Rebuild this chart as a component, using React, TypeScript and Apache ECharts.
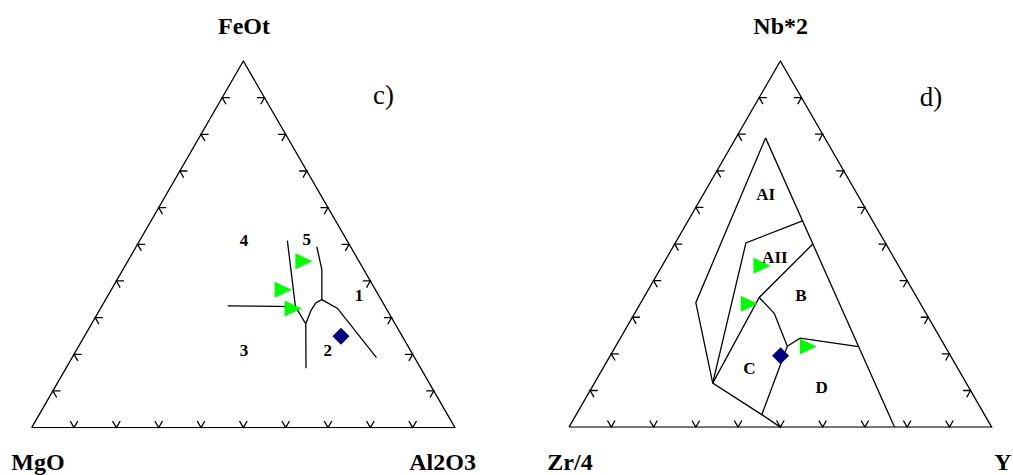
import React, { useEffect, useRef } from "react";
import * as echarts from "echarts";

const SQ = Math.sqrt(3) / 2;

// Ternary coordinates: [top, bottom-left, bottom-right] in percent
const cApexTitles = ["FeOt", "MgO", "Al2O3"];
const dApexTitles = ["Nb*2", "Zr/4", "Y"];
const tickPercents = [10, 20, 30, 40, 50, 60, 70, 80, 90];
const tickLen = 1.8;

// c) FeOt - MgO - Al2O3 field boundaries
const cBoundaries: number[][][] = [
  [[51, 14.1, 34.9], [33, 21.2, 45.8], [28.3, 21.1, 50.6], [16.2, 27.1, 56.7]],
  [[33.2, 37.1, 29.7], [33, 21.2, 45.8]],
  [[28.3, 21.1, 50.6], [32, 18, 50], [34, 15.9, 50.1], [34.9, 14, 51.1]],
  [[49.3, 8, 42.7], [43.1, 9.9, 47], [34.9, 14, 51.1]],
  [[34.9, 14, 51.1], [32.5, 11.5, 56], [19.1, 9, 71.9]],
];
const cFieldLabels = ["4", "5", "1", "3", "2"];
const cFieldPos: number[][] = [
  [51.1, 24.3, 24.6],
  [51.3, 9.4, 39.3],
  [35.9, 4.7, 59.4],
  [20.9, 39.4, 39.7],
  [20.9, 19.6, 59.5],
];
const cGreen: number[][] = [
  [45.4, 13, 41.6],
  [37.6, 21.7, 40.6],
  [32.5, 22, 45.5],
];
const cBlue: number[][] = [[24.9, 14.5, 60.6]];

// d) Nb*2 - Zr/4 - Y field boundaries
const dBoundaries: number[][][] = [
  [[79, 14, 7], [34, 53, 13], [12, 60, 28], [3.4, 52.7, 43.9], [0, 50, 50]],
  [[79, 14, 7], [0, 23, 77]],
  [[56.35, 16.6, 27.05], [50.3, 33, 16.7], [12, 60, 28]],
  [[50, 17.3, 32.7], [35.4, 37.3, 27.3], [12, 60, 28]],
  [[35.4, 37.3, 27.3], [31.1, 35.9, 33], [22.1, 37.3, 40.6], [3.4, 52.7, 43.9]],
  [[22.1, 37.3, 40.6], [24.3, 33.2, 42.5], [22, 20.5, 57.5]],
];
const dFieldLabels = ["AI", "AII", "B", "C", "D"];
const dFieldPos: number[][] = [
  [63.5, 21.7, 14.8],
  [46.2, 28.2, 25.6],
  [35.9, 27.2, 36.9],
  [16.1, 49.3, 34.6],
  [10.9, 34.8, 54.3],
];
const dGreen: number[][] = [
  [44.1, 32.3, 23.6],
  [33.7, 40.5, 25.8],
  [22, 32.4, 45.6],
];
const dBlue: number[][] = [[19.5, 40.2, 40.3]];

const toXY = (p: number[]) => [(p[2] + p[0] / 2) / 100, (p[0] / 100) * SQ];

function tickSegments(): number[][][] {
  const segs: number[][][] = [];
  const d = tickLen;
  tickPercents.forEach((v) => {
    // bottom edge: V
    segs.push([[d, 100 - v - d, v], [0, 100 - v, v], [d, 100 - v, v - d]]);
    // left edge
    segs.push([[v, 100 - v - d, d], [v, 100 - v, 0], [v - d, 100 - v, d]]);
    // right edge
    segs.push([[v, d, 100 - v - d], [v, 0, 100 - v], [v - d, d, 100 - v]]);
  });
  return segs;
}

const outline = [[0, 100, 0], [0, 0, 100], [100, 0, 0], [0, 100, 0]];

function seriesFor(idx: number, bounds: number[][][], labels: string[], labelPos: number[][], green: number[][], blue: number[][]) {
  const allLines = [outline, ...tickSegments(), ...bounds];
  return [
    {
      type: "lines",
      coordinateSystem: "cartesian2d",
      xAxisIndex: idx,
      yAxisIndex: idx,
      polyline: true,
      silent: true,
      data: allLines.map((s) => ({ coords: s.map(toXY) })),
      lineStyle: { color: "#000", width: 1.3, opacity: 1 },
      z: 2,
    },
    {
      type: "scatter",
      xAxisIndex: idx,
      yAxisIndex: idx,
      silent: true,
      data: labels.map((n, i) => ({ name: n, value: toXY(labelPos[i]) })),
      symbolSize: 0.1,
      itemStyle: { color: "rgba(0,0,0,0)", opacity: 1 },
      label: {
        show: true,
        position: "inside",
        formatter: "{b}",
        color: "#000",
        opacity: 1,
        fontFamily: "Liberation Serif",
        fontWeight: "bold",
        fontSize: 17,
      },
      z: 3,
    },
    {
      type: "scatter",
      xAxisIndex: idx,
      yAxisIndex: idx,
      data: green.map(toXY),
      symbol: "triangle",
      symbolRotate: -90,
      symbolSize: [16, 17],
      itemStyle: { color: "#00ff00", opacity: 1 },
      z: 4,
    },
    {
      type: "scatter",
      xAxisIndex: idx,
      yAxisIndex: idx,
      data: blue.map(toXY),
      symbol: "diamond",
      symbolSize: [17, 17],
      itemStyle: { color: "#000080", opacity: 1 },
      z: 4,
    },
  ];
}

export default function App() {
  const ref = useRef<HTMLDivElement>(null);
  useEffect(() => {
    if (!ref.current) return;
    const chart = echarts.init(ref.current, undefined, { renderer: "svg" });
    const titleFont = 'bold 24px "Liberation Serif", "Times New Roman", serif';
    const panelFont = '27px "Liberation Serif", "Times New Roman", serif';
    const txt = (text: string, x: number, y: number, font: string) => ({
      type: "text",
      x,
      y,
      style: { text, font, fill: "#000", textAlign: "center", textVerticalAlign: "middle" },
    });
    chart.setOption({
      animation: false,
      backgroundColor: "#fff",
      grid: [
        { left: 31.7, top: 61, width: 423.3, height: 366.6 },
        { left: 569, top: 61, width: 422.7, height: 366.1 },
      ],
      xAxis: [0, 1].map((i) => ({ type: "value", gridIndex: i, min: 0, max: 1, show: false })),
      yAxis: [0, 1].map((i) => ({ type: "value", gridIndex: i, min: 0, max: SQ, show: false })),
      series: [
        ...seriesFor(0, cBoundaries, cFieldLabels, cFieldPos, cGreen, cBlue),
        ...seriesFor(1, dBoundaries, dFieldLabels, dFieldPos, dGreen, dBlue),
      ],
      graphic: [
        txt(cApexTitles[0], 244, 26, titleFont),
        txt(cApexTitles[1], 38, 462, titleFont),
        txt(cApexTitles[2], 442.6, 462, titleFont),
        txt(dApexTitles[0], 780.7, 26, titleFont),
        txt(dApexTitles[1], 570, 462, titleFont),
        txt(dApexTitles[2], 1003, 462, titleFont),
        txt("c)", 383.5, 95, panelFont),
        txt("d)", 931, 96.5, panelFont),
      ],
    });
    return () => chart.dispose();
  }, []);
  return (
    <div
      ref={ref}
      style={{ position: "absolute", left: 0, top: 0, width: 1013, height: 475 }}
    />
  );
}
